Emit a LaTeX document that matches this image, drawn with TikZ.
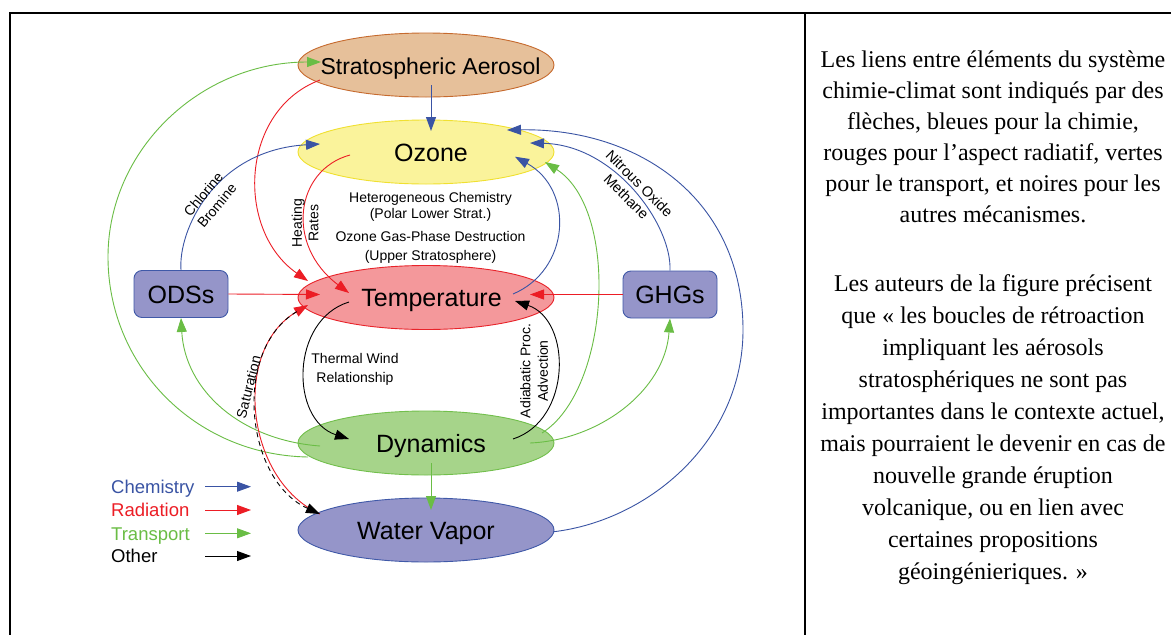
\documentclass[tikz,border=0pt]{standalone}
\usepackage{fontspec}
\setmainfont{Liberation Sans}
\newfontfamily\rightserif{Liberation Serif}
\usetikzlibrary{shapes.geometric,arrows.meta,calc}
\definecolor{cblue}{HTML}{3A54A4}
\definecolor{cred}{HTML}{EC1D25}
\definecolor{cgreen}{HTML}{6ABD45}
\definecolor{aerfill}{HTML}{E6C09A}
\definecolor{aerdraw}{HTML}{C66A2E}
\definecolor{ozfill}{HTML}{FAF39B}
\definecolor{ozdraw}{HTML}{F0E030}
\definecolor{tfill}{HTML}{F4989B}
\definecolor{tdraw}{HTML}{E8232A}
\definecolor{dfill}{HTML}{A6D48A}
\definecolor{ddraw}{HTML}{72BF4C}
\definecolor{wfill}{HTML}{9595C9}
\definecolor{wdraw}{HTML}{4059A8}
\begin{document}
\begin{tikzpicture}[x=1pt,y=-1pt,
  bigell/.style={ellipse, minimum width=256pt, minimum height=64pt, inner sep=0pt,
    line width=0.9pt, text height=18pt, text depth=0pt, font=\fontsize{25}{30}\selectfont},
  boxnode/.style={rectangle, rounded corners=8pt, minimum width=94pt, minimum height=47pt,
    inner sep=0pt, fill=wfill, draw=wdraw, line width=0.9pt, text height=18pt, text depth=0pt,
    font=\fontsize{25}{30}\selectfont},
  conn/.style={line width=0.9pt, -{Triangle[length=14pt,width=10pt]}},
  lbl/.style={font=\fontsize{14}{17.5}\selectfont, align=center, inner sep=0pt},
  legtext/.style={anchor=base west, inner sep=0pt, font=\fontsize{18.5}{22}\selectfont},
  rtext/.style={font=\rightserif\fontsize{24}{31}\selectfont, align=center, anchor=north, inner sep=0pt}
]
\useasboundingbox (0,0) rectangle (1171,635);
\fill[white] (0,0) rectangle (1171,635);
% frame
\draw[line width=2pt] (1171,12.5) -- (9.5,12.5) -- (9.5,635);
\draw[line width=2pt] (805,12.5) -- (805,635);

% nodes
\node[bigell, fill=aerfill, draw=aerdraw, font=\fontsize{23}{28}\selectfont] (aer) at (426,65) {\makebox[0pt]{\hspace*{9pt}Stratospheric Aerosol}};
\node[bigell, fill=ozfill, draw=ozdraw] (oz) at (426,152) {\makebox[0pt]{\hspace*{10pt}Ozone}};
\node[bigell, fill=tfill, draw=tdraw] (temp) at (426,297.5) {\makebox[0pt]{\hspace*{11pt}Temperature}};
\node[bigell, fill=dfill, draw=ddraw] (dyn) at (426,443) {\makebox[0pt]{\hspace*{10pt}Dynamics}};
\node[bigell, fill=wfill, draw=wdraw] (wv) at (426,530) {\makebox[0pt]{Water Vapor}};
\node[boxnode] (ods) at (181,294) {ODSs};
\node[boxnode] (ghg) at (670,294.5) {GHGs};

% connectors
\draw[conn, cblue] ($(aer)+(5,20)$) -- ($(oz)+(5,-21)$);
\draw[conn, cgreen] ($(dyn)+(-118,14)$) .. controls (194,455) and (108,365) .. (108,257)
   .. controls (108,150) and (200,62) .. ($(aer)+(-105,-3)$);
\draw[conn, cred] ($(aer)+(-106,15)$) .. controls (240,110) and (235,230) .. ($(temp)+(-118,-16.5)$);
\draw[conn, cblue] (ods.north) .. controls (178,230) and (215,150) .. ($(oz)+(-106,-8)$);
\draw[conn, cred] ($(oz)+(-76,3)$) .. controls (295,170) and (285,245) .. ($(temp)+(-77,-4.5)$);
\draw[conn, cblue] ($(temp)+(87,-3.5)$) .. controls (570,270) and (575,190) .. ($(oz)+(89,4.7)$);
\draw[conn, cgreen] ($(dyn)+(116,-10)$) .. controls (610,390) and (620,210) .. ($(oz)+(119,10)$);
\draw[conn, cblue] (ghg.north) .. controls (672,225) and (615,145) .. ($(oz)+(104,-9)$);
\draw[conn, cblue] ($(wv)+(128,1.7)$) .. controls (650,520) and (743,440) .. (743,330)
   .. controls (743,200) and (640,128) .. ($(oz)+(81,-22)$);
\draw[conn, cred] (ghg.west) -- ($(temp)+(104,-3)$);
\draw[conn, cred] (ods.east) -- ($(temp)+(-106,-3)$);
\draw[conn, black] ($(temp)+(-77,4.5)$) .. controls (290,320) and (290,420) .. ($(dyn)+(-77,-4)$);
\draw[conn, black] ($(dyn)+(87,-4)$) .. controls (572,420) and (572,320) .. ($(temp)+(89,3.5)$);
\draw[conn, cgreen] ($(dyn)+(-106,3)$) .. controls (240,440) and (185,390) .. (ods.south);
\draw[conn, cgreen] ($(dyn)+(104,0)$) .. controls (600,440) and (665,390) .. (ghg.south);
\draw[conn, cgreen] ($(dyn)+(5,20)$) -- ($(wv)+(5,-20)$);
% saturation (radiation + other)
\draw[conn, cred] ($(wv)+(-106,-16)$) .. controls (245,480) and (232,350) .. ($(temp)+(-118,7.5)$);
\draw[conn, black, dash pattern=on 5pt off 4pt, shorten <=13pt] ($(temp)+(-118,7.5)$) .. controls (232,350) and (245,480) .. ($(wv)+(-106,-16)$);

% labels
\node[lbl, rotate=50] (lcl) at (210,200) {Chlorine\\Bromine};
\node[lbl, rotate=90, font=\fontsize{14}{16.5}\selectfont] (lheat) at (305,223) {Heating\\Rates};
\node[lbl, font=\fontsize{14}{16.5}\selectfont] (lhet) at (430.5,207) {Heterogeneous Chemistry\\(Polar Lower Strat.)};
\node[lbl, font=\fontsize{14}{18.4}\selectfont] (lgas) at (430.5,247.5) {Ozone Gas-Phase Destruction\\(Upper Stratosphere)};
\node[lbl, font=\fontsize{14}{18.4}\selectfont] (ltw) at (355,369.5) {Thermal Wind\\Relationship};
\node[lbl, rotate=90] (ladi) at (534,371) {Adiabatic Proc.\\Advection};
\node[lbl, rotate=76] (lsat) at (248.5,387) {Saturation};
\node[lbl, rotate=-45, font=\fontsize{14.5}{18.4}\selectfont] (lno) at (633,190) {Nitrous Oxide\\Methane};

% legend
\node[legtext, text=cblue] (lgc) at (111,493.3) {Chemistry};
\node[legtext, text=cred] (lgr) at (111,516.6) {Radiation};
\node[legtext, text=cgreen] (lgt) at (111,540) {Transport};
\node[legtext, text=black] (lgo) at (111,562.6) {Other};
\coordinate (lc1) at (205,486.7); \coordinate (lc2) at (251,486.7);
\coordinate (lr1) at (205,510); \coordinate (lr2) at (251,510);
\coordinate (lt1) at (205,533.3); \coordinate (lt2) at (251,533.3);
\coordinate (lo1) at (205,556); \coordinate (lo2) at (251,556);
\draw[conn, cblue] (lc1) -- (lc2);
\draw[conn, cred] (lr1) -- (lr2);
\draw[conn, cgreen] (lt1) -- (lt2);
\draw[conn, black] (lo1) -- (lo2);

% right text
\node[rtext] (p1) at (993,51) {Les liens entre éléments du système\\chimie-climat sont indiqués par des\\flèches, bleues pour la chimie,\\rouges pour l’aspect radiatif, vertes\\pour le transport, et noires pour les\\autres mécanismes.};
\node[rtext, font=\rightserif\fontsize{24}{32}\selectfont] (p2) at (993,274) {Les auteurs de la figure précisent\\que « les boucles de rétroaction\\impliquant les aérosols\\stratosphériques ne sont pas\\importantes dans le contexte actuel,\\mais pourraient le devenir en cas de\\nouvelle grande éruption\\volcanique, ou en lien avec\\certaines propositions\\géoingénieriques. »};
\end{tikzpicture}
\end{document}
